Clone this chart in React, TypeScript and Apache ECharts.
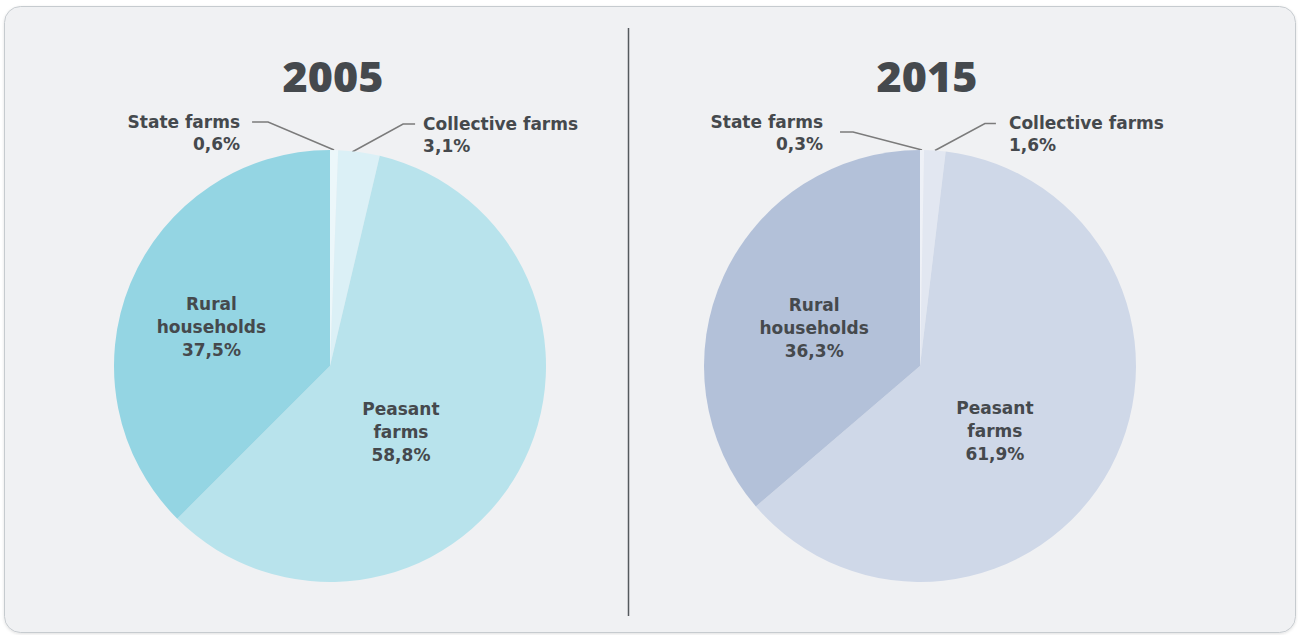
import React, { useEffect, useRef } from "react";
import * as echarts from "echarts";

const categories = ["State farms", "Collective farms", "Peasant farms", "Rural households"];
const labelNames = ["State farms", "Collective farms", "Peasant\nfarms", "Rural\nhouseholds"];
const years = ["2005", "2015"];
const values2005 = [0.6, 3.1, 58.8, 37.5];
const values2015 = [0.3, 1.6, 61.9, 36.3];

const colors2005 = ["#ecf7fa", "#dbf0f6", "#b8e3ec", "#94d5e3"];
const colors2015 = ["#eef1f7", "#e2e7f1", "#cfd8e8", "#b3c1d9"];

const TEXT = "#45494d";
const TITLE_FONT = "'Open Sans', 'Noto Sans', sans-serif";
const LABEL_FONT = "'DejaVu Sans', 'Open Sans', sans-serif";
const CX = [330, 920];
const CY = 366;
const R = 216;

// leader-line geometry per chart (offsets relative to slice edge point)
const leaderLayout = [
  {
    0: { start: [0, 0], elbow: [-66, -28], seg: -16, gap: 12, dy: 11 },
    1: { start: [-7, 0], elbow: [51, -28], seg: 12, gap: 8, dy: 11 },
    2: { dx: -26, dy: 12 },
    3: { dx: -16, dy: 3 },
  },
  {
    0: { start: [0, 0], elbow: [-69, -18], seg: -13, gap: 17, dy: 1 },
    1: { start: [0, 0], elbow: [50, -27], seg: 11, gap: 13, dy: 10 },
    2: { dx: -23, dy: 13 },
    3: { dx: -5, dy: 8 },
  },
];

const fmt = (v: number) => v.toFixed(1).replace(".", ",") + "%";

function buildSeries(idx: number, values: number[], colors: string[]) {
  const total = values.reduce((a, b) => a + b, 0);
  const mids: number[] = [];
  let acc = 0;
  values.forEach((v) => {
    mids.push((acc + v / 2) / total);
    acc += v;
  });
  const lay: any = leaderLayout[idx];
  return {
    type: "pie",
    center: [CX[idx], CY],
    radius: R,
    startAngle: 90,
    clockwise: true,
    avoidLabelOverlap: false,
    silent: true,
    label: {
      color: TEXT,
      fontFamily: LABEL_FONT,
      fontWeight: "bold",
      fontSize: 17,
      lineHeight: 22,
      formatter: (p: any) => `${labelNames[p.dataIndex]}\n${fmt(p.value)}`,
    },
    labelLine: {
      lineStyle: { color: "#7b7b7b", width: 1.5 },
    },
    data: values.map((v, i) => ({
      value: v,
      name: categories[i],
      itemStyle: { color: colors[i] },
      label: {
        position: i < 2 ? "outside" : "inside",
        lineHeight: i < 2 ? 22 : 23,
        align: i === 0 ? "right" : i === 1 ? "left" : "center",
      },
      labelLine: { show: i < 2 },
    })),
    labelLayout: (params: any) => {
      const i = params.dataIndex;
      const l = lay[i];
      if (i >= 2) return { dx: l.dx, dy: l.dy };
      const th = mids[i] * Math.PI * 2;
      const sx = CX[idx] + R * Math.sin(th) + l.start[0];
      const sy = CY - R * Math.cos(th) + l.start[1];
      const ex = sx + l.elbow[0];
      const ey = sy + l.elbow[1];
      const fx = ex + l.seg;
      const right = i === 0;
      return {
        x: right ? fx - l.gap : fx + l.gap,
        y: ey + l.dy,
        align: right ? "right" : "left",
        verticalAlign: "middle",
        labelLinePoints: [
          [sx, sy],
          [ex, ey],
          [fx, ey],
        ],
      };
    },
  };
}

export default function App() {
  const ref = useRef<HTMLDivElement>(null);
  useEffect(() => {
    if (!ref.current) return;
    const chart = echarts.init(ref.current, undefined, { renderer: "svg" });
    chart.setOption({
      animation: false,
      backgroundColor: "#ffffff",
      graphic: [
        {
          type: "rect",
          z: -10,
          shape: { x: 4.5, y: 6.5, width: 1291, height: 626, r: 16 },
          style: {
            fill: "#f0f1f3",
            stroke: "#c6cbcf",
            lineWidth: 1,
            shadowBlur: 3,
            shadowColor: "rgba(0,0,0,0.12)",
            shadowOffsetY: 1,
          },
        },
        {
          type: "line",
          shape: { x1: 628.5, y1: 28, x2: 628.5, y2: 616 },
          style: { stroke: "#555a5e", lineWidth: 1.5 },
        },
        ...years.map((y, i) => ({
          type: "text",
          x: [333, 927][i],
          y: 75,
          style: {
            text: y,
            fill: TEXT,
            font: `800 43px ${TITLE_FONT}`,
            textAlign: "center",
            textVerticalAlign: "middle",
          },
        })),
      ],
      series: [buildSeries(0, values2005, colors2005), buildSeries(1, values2015, colors2015)],
    });
    return () => chart.dispose();
  }, []);
  return (
    <div
      ref={ref}
      style={{ position: "absolute", left: 0, top: 0, width: 1298, height: 635 }}
    />
  );
}
